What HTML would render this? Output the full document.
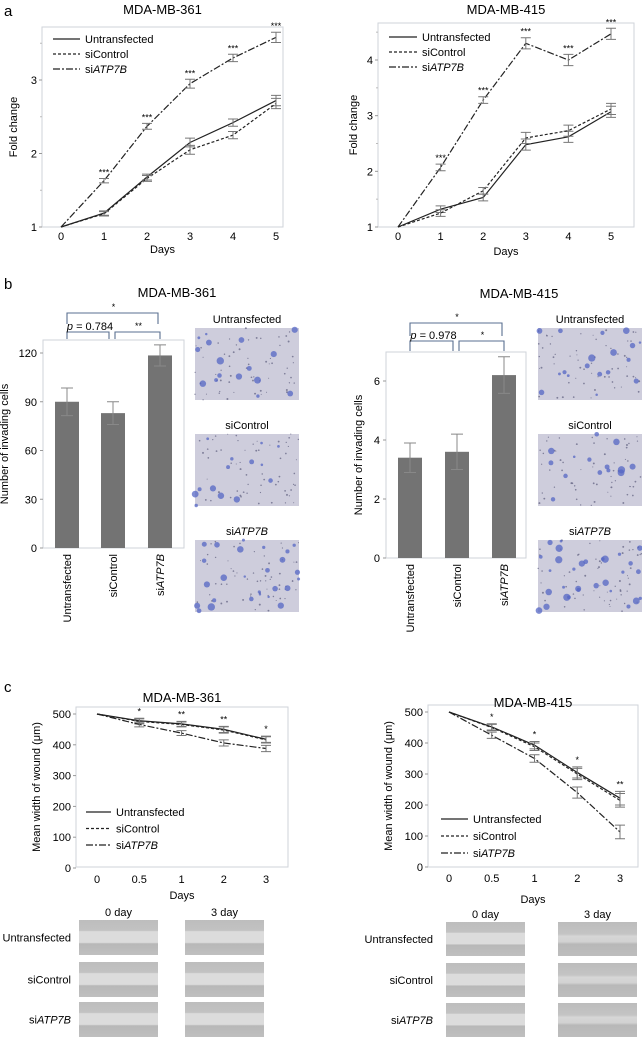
<!DOCTYPE html>
<html><head><meta charset="utf-8">
<style>
html,body{margin:0;padding:0;background:#fff;}
svg{display:block;font-family:"Liberation Sans",Arial,sans-serif;}
</style></head>
<body>
<svg id="fig" width="642" height="1038" viewBox="0 0 642 1038" xmlns="http://www.w3.org/2000/svg">
<text x="4" y="16" font-size="15">a</text>
<text x="4" y="289" font-size="15">b</text>
<text x="4" y="692" font-size="15">c</text>
</svg>
<script>
// ---- Panel a data ----
const daysA = [0,1,2,3,4,5];
const a361Untrans = [1,1.19,1.68,2.15,2.42,2.72];
const a361Ctrl = [1,1.18,1.66,2.05,2.25,2.68];
const a361Atp = [1,1.63,2.37,2.95,3.3,3.58];
const a361Err = [0,0.03,0.04,0.06,0.05,0.07];
const a415Untrans = [1,1.32,1.53,2.48,2.62,3.07];
const a415Ctrl = [1,1.25,1.65,2.6,2.73,3.12];
const a415Atp = [1,2.07,3.28,4.3,4.0,4.47];
const a415Err = [0,0.06,0.06,0.1,0.1,0.1];
const sigA = ["","***","***","***","***","***"];
// ---- Panel b data ----
const groupsB = ["Untransfected","siControl","siATP7B"];
const b361Vals = [90,83,118.5];
const b361Err = [8.5,7,6.5];
const b415Vals = [3.4,3.6,6.2];
const b415Err = [0.5,0.6,0.62];
// ---- Panel c data ----
const daysC = ["0","0.5","1","2","3"];
const c361Untrans = [500,478,468,450,418];
const c361Ctrl = [500,476,466,448,416];
const c361Atp = [500,466,438,406,388];
const c361Err = [0,8,8,10,10];
const c415Untrans = [500,452,393,305,222];
const c415Ctrl = [500,450,388,300,215];
const c415Atp = [500,425,350,240,113];
const c415Err = [0,10,12,18,22];
const sigC361 = ["","*","**","**","*"];
const sigC415 = ["","*","*","*","**"];

const NS="http://www.w3.org/2000/svg";
const svg=document.getElementById('fig');
function el(tag,attrs,parent,txt){const e=document.createElementNS(NS,tag);for(const k in attrs)e.setAttribute(k,attrs[k]);if(txt!==undefined)e.textContent=txt;(parent||svg).appendChild(e);return e;}
const DASH={solid:"",dot:"3,2",dashdot:"7,2,2,2"};

function lineChart(o){
  const g=el('g',{});
  
  
  const sx=i=>o.x0+(o.x1-o.x0)*i/(o.n-1);
  const sy=v=>o.yb+(v-o.ymin)*(o.yt-o.yb)/(o.ymaxT-o.ymin);
  const box=el('rect',{x:o.bx0,y:o.by0,width:o.bx1-o.bx0,height:o.by1-o.by0,fill:'none',stroke:'#cfd3da','stroke-width':1},g);
  
  el('text',{x:(o.bx0+o.bx1)/2,y:o.titleY,'font-size':13,'text-anchor':'middle'},g,o.title);
  o.yticks.forEach(t=>{const y=sy(t);
    el('line',{x1:o.bx0-3,x2:o.bx0,y1:y,y2:y,stroke:'#999'},g);
    const tx=el('text',{x:o.bx0-5,y:y+4,'font-size':11,'text-anchor':'end'},g,String(t));
    });
  if(o.minor) o.minor.forEach(t=>{const y=sy(t);el('line',{x1:o.bx0-2,x2:o.bx0,y1:y,y2:y,stroke:'#bbb'},g);});
  o.xlabels.forEach((l,i)=>{const tx=el('text',{x:sx(i),y:o.by1+o.xtickDy,'font-size':11,'text-anchor':'middle'},g,l);
    });
  const xt=el('text',{x:(o.bx0+o.bx1)/2,y:o.xtitleY,'font-size':11,'text-anchor':'middle'},g,'Days');
  
  const ytx=o.ytitleX, yty=(o.by0+o.by1)/2;
  const yt=el('text',{x:ytx,y:yty,'font-size':11,'text-anchor':'middle',transform:`rotate(-90 ${ytx} ${yty})`},g,o.ytitle);
  
  o.series.forEach(s=>{
    const pts=s.vals.map((v,i)=>sx(i)+','+sy(v)).join(' ');
    const pl=el('polyline',{points:pts,fill:'none',stroke:'#222','stroke-width':1.2,'stroke-dasharray':DASH[s.style]},g);
    
    s.vals.forEach((v,i)=>{if(!o.err[i])return;const x=sx(i),e=o.err[i];
      const eb=el('path',{d:`M${x-5},${sy(v+e)}h10M${x},${sy(v+e)}V${sy(v-e)}M${x-5},${sy(v-e)}h10`,stroke:'#777','stroke-width':1,fill:'none'},g);
      });
  });
  const top=o.series[o.sigSeries];
  o.sig.forEach((s,i)=>{if(!s)return;const st=el('text',{x:sx(i),y:sy(top.vals[i]+o.err[i])-o.sigDy,'font-size':9,'text-anchor':'middle'},g,s);
    });
  o.series.forEach((s,k)=>{const y=o.legY+k*o.legGap;
    el('line',{x1:o.legX,x2:o.legX+o.legW,y1:y,y2:y,stroke:'#222','stroke-width':1.2,'stroke-dasharray':DASH[s.style]},g);
    const t=el('text',{x:o.legX+o.legW+5,y:y+4,'font-size':11},g);
    
    if(s.key==='atp'){t.textContent='si';el('tspan',{'font-style':'italic'},t,'ATP7B');}else t.textContent=s.label;});
}
function series(u,c,a){return[{key:'untransfected',label:'Untransfected',vals:u,style:'solid'},{key:'sicontrol',label:'siControl',vals:c,style:'dot'},{key:'atp',label:'siATP7B',vals:a,style:'dashdot'}];}

lineChart({name:'growth-chart-361',title:'MDA-MB-361',titleY:14,bx0:42,bx1:283,by0:27,by1:227,x0:61,x1:276,n:6,
  yb:227,ymin:1,yt:80,ymaxT:3,yticks:[1,2,3],minor:[1.5,2.5,3.5],xlabels:daysA.map(String),xtickDy:13,xtitleY:253,
  ytitle:'Fold change',ytitleX:17,series:series(a361Untrans,a361Ctrl,a361Atp),err:a361Err,sig:sigA,sigSeries:2,sigDy:3,
  legX:53,legW:27,legY:39,legGap:15});
lineChart({name:'growth-chart-415',title:'MDA-MB-415',titleY:14,bx0:378,bx1:634,by0:23,by1:227,x0:398,x1:611,n:6,
  yb:227,ymin:1,yt:60,ymaxT:4,yticks:[1,2,3,4],minor:[1.5,2.5,3.5,4.5],xlabels:daysA.map(String),xtickDy:13,xtitleY:255,
  ytitle:'Fold change',ytitleX:357,series:series(a415Untrans,a415Ctrl,a415Atp),err:a415Err,sig:sigA,sigSeries:2,sigDy:3,
  legX:389,legW:28,legY:37,legGap:15});
lineChart({name:'wound-chart-361',title:'MDA-MB-361',titleY:702,bx0:76,bx1:288,by0:707,by1:867,x0:97,x1:266,n:5,
  yb:868,ymin:0,yt:714,ymaxT:500,yticks:[0,100,200,300,400,500],xlabels:daysC,xtickDy:16,xtitleY:899,
  ytitle:'Mean width of wound (μm)',ytitleX:40,series:series(c361Untrans,c361Ctrl,c361Atp),err:c361Err,sig:sigC361,sigSeries:0,sigDy:4,
  legX:86,legW:25,legY:812,legGap:16.5});
lineChart({name:'wound-chart-415',title:'MDA-MB-415',titleY:707,bx0:428,bx1:638,by0:705,by1:867,x0:449,x1:620,n:5,
  yb:867,ymin:0,yt:712,ymaxT:500,yticks:[0,100,200,300,400,500],xlabels:daysC,xtickDy:15,xtitleY:903,
  ytitle:'Mean width of wound (μm)',ytitleX:392,series:series(c415Untrans,c415Ctrl,c415Atp),err:c415Err,sig:sigC415,sigSeries:0,sigDy:4,
  legX:441,legW:27,legY:819,legGap:17});

function barChart(o){
  const g=el('g',{});
  
  
  const sy=v=>o.yb+(v*(o.yt-o.yb)/o.ymaxT);
  el('text',{x:o.titleX,y:o.titleY,'font-size':13,'text-anchor':'middle'},g,o.title);
  const f=el('rect',{x:o.bx0,y:o.by0,width:o.bx1-o.bx0,height:o.by1-o.by0,fill:'none',stroke:'#cfd3da'},g);
  
  o.yticks.forEach(t=>{const y=sy(t);el('line',{x1:o.bx0-3,x2:o.bx0,y1:y,y2:y,stroke:'#999'},g);
    const tx=el('text',{x:o.bx0-6,y:y+4,'font-size':11,'text-anchor':'end'},g,String(t));
    });
  const yx=o.ytitleX,yy=(o.by0+o.by1)/2;
  const yt=el('text',{x:yx,y:yy,'font-size':11,'text-anchor':'middle',transform:`rotate(-90 ${yx} ${yy})`},g,'Number of invading cells');
  
  o.vals.forEach((v,i)=>{const cx=o.cx[i];
    const b=el('rect',{x:cx-12,y:sy(v),width:24,height:o.yb-sy(v),fill:'#737373'},g);
    
    const e=o.err[i];
    el('path',{d:`M${cx-6},${sy(v+e)}h12M${cx},${sy(v+e)}V${sy(v-e)}M${cx-6},${sy(v-e)}h12`,stroke:'#888',fill:'none'},g);
    const lx=cx+4,ly=o.by1+6;
    const t=el('text',{x:lx,y:ly,'font-size':11,'text-anchor':'end',transform:`rotate(-90 ${lx} ${ly})`},g);
    
    if(i===2){t.textContent='si';el('tspan',{'font-style':'italic'},t,'ATP7B');}else t.textContent=groupsB[i];
  });
  const bc='#5a6f90';
  const br=(x1,x2,y,h)=>{el('path',{d:`M${x1},${y+h}V${y}H${x2}V${y+h}`,stroke:bc,fill:'none','stroke-width':1.1},g);};
  br(o.cx[0],o.cx[2]-2,o.topY,o.by0-o.topY-16);
  br(o.cx[0],o.cx[1]-4,o.lowY,o.by0-o.lowY-1);
  br(o.cx[1]+2,o.cx[2],o.lowY,o.by0-o.lowY-1);
  el('text',{x:(o.cx[0]+o.cx[2])/2,y:o.topY-3,'font-size':9,'text-anchor':'middle'},g,'*');
  el('text',{x:(o.cx[1]+o.cx[2])/2+2,y:o.lowY-3,'font-size':9,'text-anchor':'middle'},g,o.sig2);
  const p=el('text',{x:(o.cx[0]+o.cx[1])/2,y:o.lowY-2,'font-size':11,'text-anchor':'middle'},g);
  el('tspan',{'font-style':'italic'},p,'p');el('tspan',{},p,' = '+o.pval);
  
}
barChart({name:'invasion-chart-361',title:'MDA-MB-361',titleX:177,titleY:297,bx0:43,bx1:184,by0:340,by1:548,yb:548,yt:353,ymaxT:120,
  yticks:[0,30,60,90,120],ytitleX:8,vals:b361Vals,err:b361Err,cx:[67,113,160],topY:313,lowY:332,sig2:'**',pval:'0.784'});
barChart({name:'invasion-chart-415',title:'MDA-MB-415',titleX:519,titleY:298,bx0:386,bx1:526,by0:352,by1:558,yb:558,yt:381,ymaxT:6,
  yticks:[0,2,4,6],ytitleX:362,vals:b415Vals,err:b415Err,cx:[410,457,504],topY:323,lowY:341,sig2:'*',pval:'0.978'});

// microscopy image placeholders (decorative texture)
let seed=7;function rnd(){seed=(seed*16807)%2147483647;return seed/2147483647;}
function micro(x,y,w,h,label,n,big){
  const g=el('g',{});
  el('rect',{x,y,width:w,height:h,fill:'#cecddc'},g);
  for(let i=0;i<n;i++)el('circle',{cx:x+rnd()*w,cy:y+rnd()*h,r:0.5+rnd()*0.5,fill:'#6a6a88','fill-opacity':0.8},g);
  for(let i=0;i<big;i++)el('circle',{cx:x+rnd()*w,cy:y+rnd()*h,r:1.2+rnd()*2.5,fill:'#5465c4','fill-opacity':0.75},g);
  const t=el('text',{x:x+w/2,y:y-5,'font-size':11,'text-anchor':'middle'},g);
  
  if(label==='atp'){t.textContent='si';el('tspan',{'font-style':'italic'},t,'ATP7B');}else t.textContent=label;
}
[[328,'Untransfected',16],[434,'siControl',14],[540,'atp',26]].forEach(r=>{micro(195,r[0],104,72,r[1],60,r[2]);});
[[328,'Untransfected',18],[434,'siControl',14],[540,'atp',30]].forEach(r=>{micro(538,r[0],104,72,r[1],60,r[2]);});

// wound images
const defs=el('defs',{});
const lg=el('linearGradient',{id:'w0',x1:0,y1:0,x2:0,y2:1},defs);
[[0,'#bdbdbd'],[0.3,'#c2c2c2'],[0.33,'#dcdcdc'],[0.64,'#dcdcdc'],[0.68,'#b8b8b8'],[1,'#bfbfbf']].forEach(s=>el('stop',{offset:s[0],'stop-color':s[1]},lg));
const lg2=el('linearGradient',{id:'w3',x1:0,y1:0,x2:0,y2:1},defs);
[[0,'#bcbcbc'],[0.35,'#c4c4c4'],[0.42,'#d6d6d6'],[0.58,'#d2d2d2'],[0.65,'#b8b8b8'],[1,'#bdbdbd']].forEach(s=>el('stop',{offset:s[0],'stop-color':s[1]},lg2));
function wound(x,y,w,h,grad){const r=el('rect',{x,y,width:w,height:h,fill:'url(#'+grad+')'});}
function woundBlock(cols,rows,w,h,labelX,grad3){
  el('text',{x:cols[0]+w/2,y:rows[0]-4,'font-size':11,'text-anchor':'middle'},svg,'0 day');
  el('text',{x:cols[1]+w/2,y:rows[0]-4,'font-size':11,'text-anchor':'middle'},svg,'3 day');
  ['Untransfected','siControl','atp'].forEach((l,i)=>{
    wound(cols[0],rows[i],w,h,'w0');wound(cols[1],rows[i],w,h,grad3);
    const t=el('text',{x:labelX,y:rows[i]+h/2+4,'font-size':11,'text-anchor':'end'});
    
    if(l==='atp'){t.textContent='si';el('tspan',{'font-style':'italic'},t,'ATP7B');}else t.textContent=l;});
}
woundBlock([79,185],[920,962,1002],79,35,71,'w0');
woundBlock([446,558],[922,963,1003],79,34,433,'w3');
</script>
</body></html>
